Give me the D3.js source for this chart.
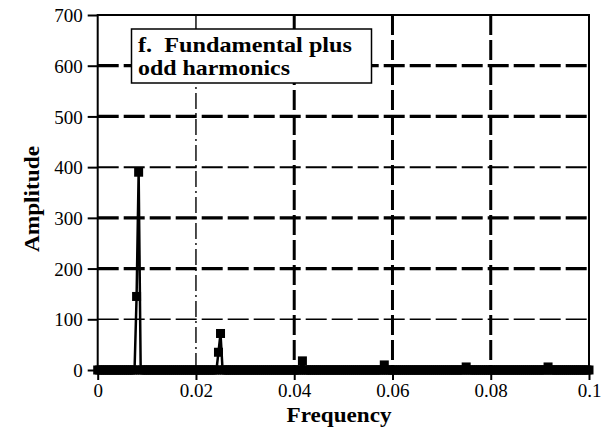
<!DOCTYPE html>
<html>
<head>
<meta charset="utf-8">
<script src="https://cdn.jsdelivr.net/npm/d3@7"></script>
<style>
  html, body { margin: 0; padding: 0; background: #fff; }
  svg { display: block; }
  text { font-family: "Liberation Serif", "Times New Roman", serif; fill: #000; }
</style>
</head>
<body>
<div id="content"></div>
<script>
// Données : spectre (pas de 1/2400), fondamental + harmoniques impaires

var binWidth = 1 / 2400;
var amplitude = [
  0, 0, 0, 0, 0, 0, 0, 0, 0, 0, 0, 0, 0, 0, 0, 0, 0, 0, 0, 145,
  390, 0, 0, 0, 0, 0, 0, 0, 0, 0, 0, 0, 0, 0, 0, 0, 0, 0, 0, 0,
  0, 0, 0, 0, 0, 0, 0, 0, 0, 0, 0, 0, 0, 0, 0, 0, 0, 0, 0, 35,
  72, 0, 0, 0, 0, 0, 0, 0, 0, 0, 0, 0, 0, 0, 0, 0, 0, 0, 0, 0,
  0, 0, 0, 0, 0, 0, 0, 0, 0, 0, 0, 0, 0, 0, 0, 0, 0, 0, 0, 0,
  18, 0, 0, 0, 0, 0, 0, 0, 0, 0, 0, 0, 0, 0, 0, 0, 0, 0, 0, 0,
  0, 0, 0, 0, 0, 0, 0, 0, 0, 0, 0, 0, 0, 0, 0, 0, 0, 0, 0, 0,
  10, 0, 0, 0, 0, 0, 0, 0, 0, 0, 0, 0, 0, 0, 0, 0, 0, 0, 0, 0,
  0, 0, 0, 0, 0, 0, 0, 0, 0, 0, 0, 0, 0, 0, 0, 0, 0, 0, 0, 0,
  6, 0, 0, 0, 0, 0, 0, 0, 0, 0, 0, 0, 0, 0, 0, 0, 0, 0, 0, 0,
  0, 0, 0, 0, 0, 0, 0, 0, 0, 0, 0, 0, 0, 0, 0, 0, 0, 0, 0, 0,
  6, 0, 0, 0, 0, 0, 0, 0, 0, 0, 0, 0, 0, 0, 0, 0, 0, 0, 0, 0,
  0
];
var xTicks = [0, 0.02, 0.04, 0.06, 0.08, 0.1];
var yTicks = [0, 100, 200, 300, 400, 500, 600, 700];
var xGrid  = [0.02, 0.04, 0.06, 0.08];
var yGrid  = [100, 200, 300, 400, 500, 600];
var titleLines = ["f.  Fundamental plus", "odd harmonics"];

var spectrum = amplitude.map((a, i) => ({freq: i * binWidth, amp: a}));

// Paramètres graphiques

var width = 603, height = 431,
    plotLeft = 97.7, plotRight = 589, plotTop = 15, plotBottom = 370;

var svg = d3.select("#content").append("svg")
    .attr("width", width)
    .attr("height", height);

svg.append("rect").attr("width", width).attr("height", height).attr("fill", "#fff");

var x = d3.scaleLinear().domain([0, 0.1]).range([plotLeft, plotRight]),
    y = d3.scaleLinear().domain([0, 700]).range([plotBottom, plotTop]);

// grille (traits épais sauf 0.02, 100 et 400)
svg.append("g")
  .selectAll("line")
    .data(xGrid)
  .join("line")
    .attr("x1", d => x(d)).attr("x2", d => x(d))
    .attr("y1", y(700)).attr("y2", y(0))
    .attr("stroke", "#000")
    .attr("stroke-width", d => d === 0.02 ? 1.4 : 3)
    .attr("stroke-dasharray", d => d === 0.02 ? "16,4,2,4" : "20,5");

svg.append("g")
  .selectAll("line")
    .data(yGrid)
  .join("line")
    .attr("x1", x(0)).attr("x2", x(0.1) + 2)
    .attr("y1", d => y(d)).attr("y2", d => y(d))
    .attr("stroke", "#000")
    .attr("stroke-width", d => d === 100 ? 1.5 : d === 400 ? 2 : 3.2)
    .attr("stroke-dasharray", "21,5");

// cadre
svg.append("path")
    .attr("d", `M${x(0)},${y(0)}V${y(700)}H${x(0.1)}V${y(0)}`)
    .attr("fill", "none")
    .attr("stroke", "#000")
    .attr("stroke-width", 2);

// axes
var yAxis = svg.append("g")
    .attr("transform", `translate(${plotLeft},0)`)
    .call(d3.axisLeft(y).tickValues(yTicks).tickSize(10).tickPadding(5).tickFormat(d3.format("")));

var xAxis = svg.append("g")
    .attr("transform", `translate(0,${plotBottom})`)
    .call(d3.axisBottom(x).tickValues(xTicks).tickSize(10).tickPadding(4).tickFormat(d3.format("")));

[xAxis, yAxis].forEach(ax => {
  ax.select(".domain").remove();
  ax.selectAll(".tick line").attr("stroke", "#000").attr("stroke-width", 2);
  ax.selectAll(".tick text")
    .attr("font-family", "Liberation Serif, serif")
    .attr("font-size", 19)
    .attr("fill", "#000");
});
yAxis.selectAll(".tick text").attr("dy", "0.35em");

// série
svg.append("path")
    .datum(spectrum)
    .attr("fill", "none")
    .attr("stroke", "#000")
    .attr("stroke-width", 2.5)
    .attr("d", d3.line().x(d => x(d.freq)).y(d => y(d.amp)));

svg.append("g")
  .selectAll("rect")
    .data(spectrum)
  .join("rect")
    .attr("x", d => x(d.freq) - 4.5)
    .attr("y", d => y(d.amp) - 4.5)
    .attr("width", 9)
    .attr("height", 9)
    .attr("fill", "#000");

// encadré titre
var box = svg.append("g");
box.append("rect")
    .attr("x", 131.5).attr("y", 29)
    .attr("width", 240).attr("height", 54)
    .attr("fill", "#fff")
    .attr("stroke", "#000")
    .attr("stroke-width", 1.5);
box.selectAll("text")
    .data(titleLines)
  .join("text")
    .attr("x", 138)
    .attr("y", (d, i) => 52 + i * 23)
    .attr("font-size", 21)
    .attr("font-weight", "bold")
    .attr("textLength", (d, i) => i === 0 ? 214 : 152)
    .attr("lengthAdjust", "spacingAndGlyphs")
    .style("white-space", "pre")
    .text(d => d);

// titres des axes
svg.append("text")
    .attr("x", 339)
    .attr("y", 422)
    .attr("text-anchor", "middle")
    .attr("font-size", 21)
    .attr("font-weight", "bold")
    .attr("textLength", 105)
    .attr("lengthAdjust", "spacingAndGlyphs")
    .text("Frequency");

svg.append("text")
    .attr("transform", "translate(39,199) rotate(-90)")
    .attr("text-anchor", "middle")
    .attr("font-size", 22)
    .attr("font-weight", "bold")
    .attr("textLength", 106)
    .attr("lengthAdjust", "spacingAndGlyphs")
    .text("Amplitude");
</script>
</body>
</html>
